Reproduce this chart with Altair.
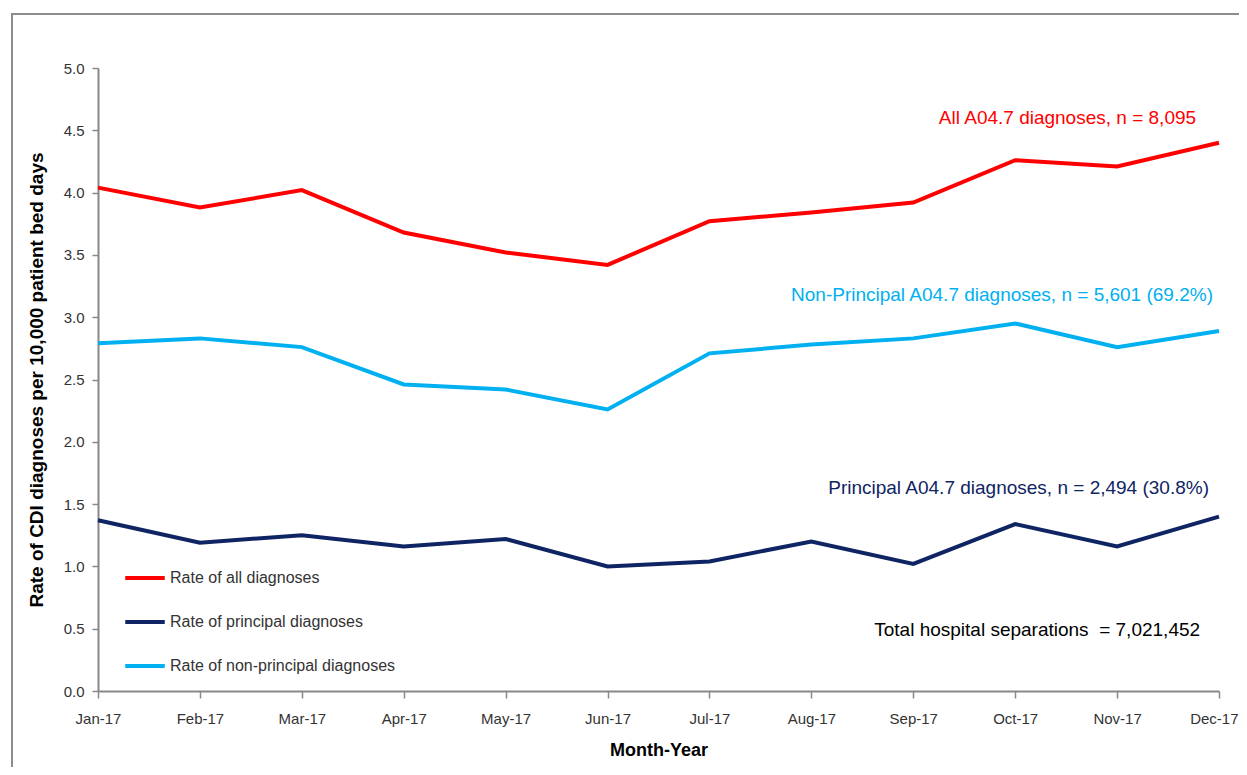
import altair as alt
import pandas as pd

months = ["Jan-17", "Feb-17", "Mar-17", "Apr-17", "May-17", "Jun-17",
          "Jul-17", "Aug-17", "Sep-17", "Oct-17", "Nov-17", "Dec-17"]
all_rate = [4.04, 3.88, 4.02, 3.68, 3.52, 3.42, 3.77, 3.84, 3.92, 4.26, 4.21, 4.40]
principal_rate = [1.37, 1.19, 1.25, 1.16, 1.22, 1.00, 1.04, 1.20, 1.02, 1.34, 1.16, 1.40]
nonprincipal_rate = [2.79, 2.83, 2.76, 2.46, 2.42, 2.26, 2.71, 2.78, 2.83, 2.95, 2.76, 2.89]

series_names = ["Rate of all diagnoses", "Rate of principal diagnoses",
                "Rate of non-principal diagnoses"]
series_colors = ["#ff0000", "#0f2463", "#00b0f0"]

rows = []
for name, vals in zip(series_names, [all_rate, principal_rate, nonprincipal_rate]):
    for m, v in zip(months, vals):
        rows.append({"month": m, "rate": v, "series": name})
df = pd.DataFrame(rows)

ann_text = ["All A04.7 diagnoses, n = 8,095",
            "Non-Principal A04.7 diagnoses, n = 5,601 (69.2%)",
            "Principal A04.7 diagnoses, n = 2,494 (30.8%)",
            "Total hospital separations \u00a0= 7,021,452"]
ann_month = ["Nov-17", "Dec-17", "Dec-17", "Nov-17"]
ann_rate = [4.6, 3.18, 1.63, 0.49]
ann_dx = [79, -6, -10, 83]
ann_color = ["#ff0000", "#00b0f0", "#0f2463", "#000000"]

FONT = "Liberation Sans"

x_enc = alt.X("month:O", sort=months, scale=alt.Scale(type="point", padding=0),
              axis=alt.Axis(title="Month-Year", labelAngle=0, labelFont=FONT,
                            labelFontSize=15,
                            labelAlign=alt.expr("datum.value == 'Dec-17' ? 'right' : 'center'"),
                            labelOffset=alt.expr("datum.value == 'Dec-17' ? 19 : 0"),
                            labelColor="#333333",
                            labelPadding=13, tickSize=7, tickColor="#888888",
                            domainColor="#888888", domainWidth=2, tickWidth=1.5,
                            titleFont=FONT, titleFontSize=18, titleFontWeight="bold",
                            titleColor="#000000", titlePadding=15, grid=False))
y_enc = alt.Y("rate:Q", scale=alt.Scale(domain=[0, 5]),
              axis=alt.Axis(title="Rate of CDI diagnoses per 10,000  patient bed days",
                            values=[0, 0.5, 1, 1.5, 2, 2.5, 3, 3.5, 4, 4.5, 5],
                            format=".1f", labelFont=FONT, labelFontSize=15,
                            labelColor="#333333", labelPadding=8, tickSize=6,
                            tickColor="#888888", domainColor="#888888", domainWidth=2,
                            tickWidth=1.5, titleFont=FONT, titleFontSize=19,
                            titleFontWeight="bold", titleColor="#000000",
                            titlePadding=17, grid=False))

lines = alt.Chart(df).mark_line(strokeWidth=4).encode(
    x=x_enc,
    y=y_enc,
    color=alt.Color("series:N", sort=series_names,
                    scale=alt.Scale(domain=series_names, range=series_colors),
                    legend=alt.Legend(title=None, orient="none", legendX=25, legendY=488,
                                      symbolType="stroke", symbolStrokeWidth=4,
                                      symbolSize=1560, labelFont=FONT, labelFontSize=16,
                                      labelColor="#333333", rowPadding=14,
                                      labelOffset=3, labelLimit=400)),
)

ann_df = pd.DataFrame({"text": ann_text, "month": ann_month, "rate": ann_rate,
                       "dx": ann_dx, "color": ann_color})
anns = []
for i in range(len(ann_text)):
    anns.append(alt.Chart(ann_df.iloc[[i]]).mark_text(
        align="right", baseline="middle", font=FONT, fontSize=19,
        dx=ann_dx[i], color=ann_color[i]).encode(
        x=alt.X("month:O", sort=months), y="rate:Q", text="text:N"))

frame = alt.Chart(pd.DataFrame({"a": [0]})).mark_rect(
    fill=None, stroke="#8c8c8c", strokeWidth=2).encode(
    x=alt.value(-86), x2=alt.value(1260), y=alt.value(-54), y2=alt.value(800))

chart = alt.layer(frame, lines, *anns).properties(
    width=1121, height=623,
    autosize=alt.AutoSizeParams(type="none"),
    padding={"left": 90, "top": 60, "right": 20, "bottom": 76},
).configure_view(stroke=None)

chart.save("out.html", embed_options={"renderer": "svg", "actions": False})
